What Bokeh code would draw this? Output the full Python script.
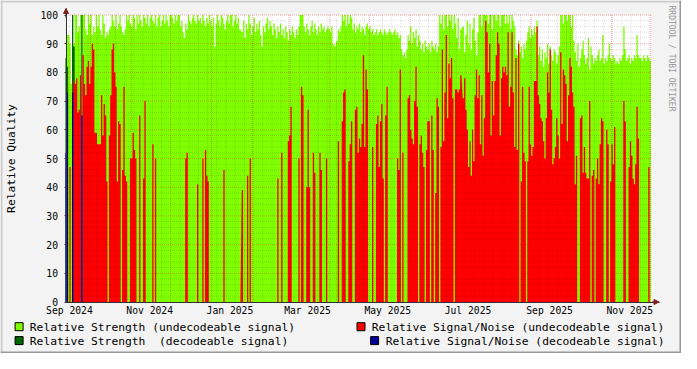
import math
from datetime import datetime, timedelta
import numpy as np
from bokeh.plotting import figure
from bokeh.models import (Range1d, FixedTicker, DatetimeTickFormatter, Arrow,
                          NormalHead, ColumnDataSource, BoxAnnotation)
from bokeh.embed import file_html
from bokeh.resources import INLINE
from bokeh.core.properties import value

NAN = float("nan")

# ---------------- data (one value per day, starting 2024-09-12) ----------------
first_day = datetime(2024, 9, 12)

# Relative Strength (undecodeable signal)
strength_undec = [
    0, 93, 93, 90, 76, 0, 90, 100, 100, 94,
    96, 100, 0, 100, 100, 95, 93, 100, 97, 100,
    93, 96, 94, 100, 96, 100, 95, 93, 100, 97,
    92, 94, 93, 95, 96, 100, 98, 96, 100, 95,
    97, 100, 96, 94, 93, 95, 100, 98, 100, 97,
    96, 100, 99, 95, 100, 97, 100, 98, 96, 100,
    99, 97, 100, 96, 99, 100, 98, 97, 100, 96,
    99, 100, 96, 98, 100, 97, 100, 98, 96, 100,
    100, 99, 97, 100, 98, 100, 100, 96, 98, 94,
    92, 97, 95, 100, 98, 97, 99, 100, 98, 97,
    100, 98, 99, 97, 100, 98, 96, 99, 97, 100,
    98, 96, 99, 89, 97, 100, 98, 96, 100, 99,
    97, 95, 98, 100, 97, 100, 100, 96, 98, 100,
    97, 99, 95, NAN, 94, 98, 92, 97, 95, 100,
    97, 93, 96, 99, 94, 97, 95, 98, 93, 89,
    96, 94, 97, 99, 95, 98, 96, 93, 97, 95,
    92, 96, 94, 97, 93, 95, 92, 96, 94, 91,
    95, 93, 96, 94, 92, 95, 93, 96, 100, 100,
    100, 96, 94, 97, 95, 93, 96, 98, 94, 97,
    95, 93, 96, 94, 97, 95, 96, 94, 95, 96,
    95, 94, 96, 90, 89, NAN, 91, 95, 94, 96,
    100, 98, 100, 96, 100, 97, 100, 99, 95, 97,
    94, 96, 95, 97, 94, 96, 95, 93, 96, 97,
    95, 96, 94, 95, 93, 94, 95, 93, 94, 95,
    94, 93, 95, 94, 93, 94, 95, 94, 93, 94,
    95, 93, 94, 92, 93, 88, 86, 87, 85, 88,
    93, 91, 96, 90, 94, 92, 95, 89, 93, 91,
    88, 90, 87, 91, 89, 88, 90, 87, 91, 89,
    88, 90, 87, 89, 100, 97, 100, 95, 100, 100,
    96, 100, 98, 100, 95, 100, 97, 92, 99, 88,
    95, NAN, 96, 87, 93, 98, 90, 97, 88, 95,
    99, 91, 86, 94, 100, 100, 96, 100, 100, 100,
    100, 97, 100, 100, 95, 100, 100, 98, 100, 100,
    96, 100, 100, 100, 97, 100, 97, 100, 95, 100,
    98, 96, 88, 86, 91, 87, 89, 85, 90, 88,
    91, 94, 96, 92, 95, 93, 96, 94, 98, 86,
    89, 84, 88, 82, 87, 85, 90, 83, 89, 86,
    84, 88, 87, 83, 86, 89, 100, 100, 97, 100,
    100, 98, 100, 100, 96, 100, 91, 87, 84, 90,
    82, 85, 88, 91, 86, 83, 85, 92, 81, 89,
    86, 83, 85, 84, 86, 88, 84, 85, 93, 83,
    85, 84, 86, 90, 85, 84, 86, 85, 83, 84,
    83, 85, 84, 86, 96, 88, 84, 85, 86, 83,
    85, 84, 86, 85, 93, 86, 85, 85, 84, 86,
    85, 84, 86, 85, 84,
]

# Relative Signal/Noise (undecodeable signal)
snr_undec = [
    0, 0, 0, 47, 0, 0, 77, 76, 78, 66,
    67, 79, 0, 86, 76, 72, 82, 84, 76, 82,
    90, 88, 59, 59, 55, 55, 55, 72, 58, 69,
    65, 42, 0, 58, 72, 88, 90, 80, 75, 42,
    63, 62, 0, 46, 75, 44, 42, 0, 0, 50,
    50, 59, 53, 50, 0, 0, 65, 0, 0, 43,
    70, 0, 0, 0, 0, 0, 55, 0, 50, 0,
    0, 0, 0, 0, 0, 0, 0, 0, 0, 0,
    0, 0, 0, 0, 0, 0, 0, 0, 0, 0,
    0, 50, 52, 0, 0, 0, 0, 0, 0, 0,
    41, 0, 0, 0, 50, 0, 53, 44, 42, 0,
    0, 0, 0, 0, 0, 0, 0, 0, 0, 0,
    46, 0, 0, 0, 0, 0, 0, 0, 0, 0,
    0, 0, 0, NAN, 39, 0, 0, 0, 44, 0,
    50, 0, 0, 0, 0, 0, 0, 0, 0, 0,
    0, 0, 0, 0, 0, 0, 0, 0, 0, 0,
    0, 43, 0, 0, 52, 0, 0, 0, 0, 56,
    58, 68, 0, 0, 0, 0, 0, 50, 0, 75,
    72, 0, 0, 40, 67, 40, 0, 0, 52, 45,
    0, 0, 0, 52, 46, 0, 0, 0, 50, 0,
    0, 0, 0, 0, 0, NAN, 0, 56, 0, 0,
    63, 73, 74, 0, 0, 49, 55, 63, 0, 0,
    67, 68, 52, 57, 54, 62, 86, 54, 81, 74,
    0, 0, 0, 54, 0, 0, 62, 65, 47, 63,
    69, 43, 0, 65, 75, 0, 0, 0, 0, 0,
    0, 0, 50, 46, 81, 0, 52, 0, 0, 0,
    71, 72, 60, 57, 55, 70, 82, 68, 0, 55,
    58, 52, 47, 0, 53, 63, 63, 0, 65, 53,
    0, 38, 71, 68, 0, 54, 88, 56, 73, 93,
    64, 83, 78, 85, 71, 0, 74, 74, 73, 74,
    79, NAN, 71, 78, 67, 60, 47, 56, 44, 60,
    49, 72, 81, 71, 79, 55, 72, 51, 64, 98,
    94, 80, 90, 58, 77, 65, 77, 86, 94, 90,
    58, 78, 82, 80, 82, 79, 94, 68, 75, 94,
    73, 54, 85, 53, 90, 0, 42, 75, 52, 49,
    0, 49, 75, 55, 51, 54, 77, 77, 96, 72,
    69, 64, 63, 56, 50, 64, 80, 73, 88, 67,
    48, 50, 54, 64, 58, 50, 87, 62, 81, 79,
    76, 56, 72, 85, 82, 73, 68, 41, 51, 0,
    0, 64, 65, 45, 54, 45, 43, 43, 70, 0,
    44, 46, 0, 43, 50, 41, 55, 64, 63, 0,
    0, 60, 55, 0, 42, 55, 48, 61, 0, 0,
    0, 0, 0, 0, 70, 63, 0, 0, 47, 56,
    51, 43, 41, 48, 68, 57, 0, 0, 0, 0,
    0, 0, 0, 47, 0,
]

# decodeable signal, only present during the first days
strength_dec = [85, 82, 0, 0, 0, 100, 89, 0, 0, 0, 0, 0, 100]
snr_dec = [52, 73, 0, 0, 0, 73, 0, 0, 0, 0, 0, 0, 65]

x_tick_labels = ["Sep 2024", "Nov 2024", "Jan 2025", "Mar 2025",
                 "May 2025", "Jul 2025", "Sep 2025", "Nov 2025"]
label_months = [(2024, 9), (2024, 11), (2025, 1), (2025, 3),
                (2025, 5), (2025, 7), (2025, 9), (2025, 11)]
y_ticks = [0, 10, 20, 30, 40, 50, 60, 70, 80, 90, 100]

legend_labels = ["Relative Strength (undecodeable signal)",
                 "Relative Signal/Noise (undecodeable signal)",
                 "Relative Strength \u00a0(decodeable signal)",
                 "Relative Signal/Noise (decodeable signal)"]

C_STR_UND = "#80ff00"
C_STR_DEC = "#006600"
C_SNR_UND = "#ff0000"
C_SNR_DEC = "#000099"
legend_colors = [C_STR_UND, C_SNR_UND, C_STR_DEC, C_SNR_DEC]

AXIS = "#303030"
ARROW = "#7f1f1f"
BACK = "#f3f3f3"
SHADE_A = "#cbcbcb"
SHADE_B = "#999999"
FONT = "DejaVu Sans Mono"

# ---------------- geometry ----------------
EPOCH = datetime(1970, 1, 1)


def ms(dt):
    return (dt - EPOCH).total_seconds() * 1000.0


DAY_MS = 86400000.0
W_PX, H_PX = 681, 353
L_PX, R_PX = 65.5, 651.5      # data area left / right (pixels)
T_PX, B_PX = 14.5, 301.5      # data area top / bottom (pixels)

x_start = ms(datetime(2024, 9, 12, 10, 5))
span_days = 445.43
x_end = x_start + span_days * DAY_MS
PXMS = span_days * DAY_MS / (R_PX - L_PX)   # ms per pixel
PYU = (B_PX - T_PX) / 100.0                   # pixels per unit


def dx(px):
    return x_start + (px - L_PX) * PXMS


def dy(py):
    return (B_PX - py) / PYU


def step_source(n_days, cols):
    # day edges (step "after"): the last day's value is repeated at its closing edge
    data = dict(xe=np.array([ms(first_day + timedelta(days=i)) for i in range(n_days + 1)]),
                xc=np.array([ms(first_day + timedelta(days=i, hours=12)) for i in range(n_days + 1)]))
    for k, vals in cols.items():
        data[k] = np.array(list(vals) + [vals[-1]], dtype=float)
    return ColumnDataSource(data)


n = len(strength_undec)
src = step_source(n, {"g": strength_undec, "r": snr_undec})
nd = len(strength_dec)
src_dec = step_source(nd, {"dg": strength_dec, "b": snr_dec})

label_ticks = [ms(datetime(y, m, 15)) for (y, m) in label_months]

month_starts = []
y_, m_ = 2024, 10
while True:
    t = ms(datetime(y_, m_, 1))
    if t > x_end:
        break
    month_starts.append(t)
    m_ += 1
    if m_ > 12:
        m_ = 1
        y_ += 1

week_lines = []
d = datetime(2024, 9, 15)
while ms(d) < x_end:
    if d.day != 1:
        week_lines.append(ms(d))
    d += timedelta(days=7)

# ---------------- figure ----------------
p = figure(width=W_PX, height=H_PX, x_axis_type="datetime",
           x_range=Range1d(dx(0), dx(W_PX)), y_range=Range1d(dy(H_PX), dy(0)),
           output_backend="svg", toolbar_location=None, min_border=0,
           background_fill_color=BACK, border_fill_color=BACK,
           outline_line_color=None)
p.grid.visible = False

p.add_layout(BoxAnnotation(left=x_start, right=x_end, bottom=0, top=100,
                           fill_color="#ffffff", fill_alpha=1.0, line_color=None,
                           level="underlay"))

HAS_STEP = hasattr(p, "varea_step")


def area(source, col, color):
    if HAS_STEP:
        p.varea_step(x="xe", y1=0, y2=col, step_mode="after", source=source,
                     fill_color=color)
    else:
        p.vbar(x="xc", top=col, width=DAY_MS * 1.5, source=source,
               fill_color=color, line_color=None)


area(src, "g", C_STR_UND)
area(src_dec, "dg", C_STR_DEC)
area(src, "r", C_SNR_UND)
area(src_dec, "b", C_SNR_DEC)

# grid (dotted, drawn over the areas like rrdtool)
y_minor = [v for v in range(2, 101, 2) if v % 10 != 0]
y_major = [v for v in range(10, 101, 10)]
GRID_MINOR = dict(line_color="#000000", line_alpha=0.12, line_dash="1 1", line_width=1)
GRID_MAJOR = dict(line_color="#e00000", line_alpha=0.32, line_dash="1 1", line_width=1)
p.segment(x0=[x_start] * len(y_minor), x1=[x_end] * len(y_minor), y0=y_minor, y1=y_minor, **GRID_MINOR)
p.segment(x0=week_lines, x1=week_lines, y0=[0] * len(week_lines), y1=[100] * len(week_lines), **GRID_MINOR)
p.segment(x0=[x_start] * len(y_major), x1=[x_end] * len(y_major), y0=y_major, y1=y_major, **GRID_MAJOR)
p.segment(x0=month_starts, x1=month_starts, y0=[0] * len(month_starts), y1=[100] * len(month_starts), **GRID_MAJOR)

# axes at fixed locations inside the canvas
x_tip = dx(658.5)
y_tip = dy(8.0)

xa = p.xaxis[0]
xa.fixed_location = 0
xa.bounds = (x_start, x_tip)
xa.ticker = FixedTicker(ticks=label_ticks)
fmt = "%b %Y"
xa.formatter = DatetimeTickFormatter(microseconds=fmt, milliseconds=fmt, seconds=fmt,
                                     minsec=fmt, minutes=fmt, hourmin=fmt, hours=fmt,
                                     days=fmt, months=fmt, years=fmt)
xa.major_label_overrides = {t: s for t, s in zip(label_ticks, x_tick_labels)}
xa.major_tick_line_color = None
xa.major_tick_out = 0
xa.major_tick_in = 0
xa.minor_tick_line_color = None
xa.axis_line_color = AXIS
xa.major_label_standoff = 3
xa.major_label_text_font = FONT
xa.major_label_text_font_size = "9.7px"
xa.major_label_text_color = "#000000"

ya = p.yaxis[0]
ya.fixed_location = x_start
ya.bounds = (0, y_tip)
ya.ticker = FixedTicker(ticks=y_ticks)
ya.major_tick_out = 2
ya.major_tick_in = 0
ya.major_tick_line_color = AXIS
ya.minor_tick_line_color = None
ya.axis_line_color = AXIS
ya.major_label_standoff = 6
ya.major_label_text_font = FONT
ya.major_label_text_font_size = "9.7px"
ya.major_label_text_color = "#000000"

p.add_layout(Arrow(end=NormalHead(size=5, fill_color=ARROW, line_color=ARROW),
                   x_start=x_start, y_start=99, x_end=x_start, y_end=y_tip,
                   line_color=AXIS, line_width=1))
p.add_layout(Arrow(end=NormalHead(size=5, fill_color=ARROW, line_color=ARROW),
                   x_start=x_end, y_start=0, x_end=x_tip, y_end=0,
                   line_color=AXIS, line_width=1))

# vertical axis title and watermark
p.text(x=[dx(10.7)], y=[50], text=["Relative Quality"], angle=math.pi / 2,
       text_align="center", text_baseline="middle", text_font=value(FONT),
       text_font_size="11.3px", text_color="#000000")
p.text(x=[dx(671.0)], y=[dy(5.0)], text=["RRDTOOL / TOBI OETIKER"], angle=-math.pi / 2,
       text_align="left", text_baseline="middle", text_font=value(FONT),
       text_font_size="8px", text_color="#959595")

# legend
sq_x = [18.6, 360.5, 18.6, 374.1]
sq_y = [326.2, 326.2, 340.1, 340.1]
tx_x = [29.3, 371.3, 29.3, 385.2]
p.rect(x=[dx(v) for v in sq_x], y=[dy(v) for v in sq_y], width=8, height=8,
       width_units="screen", height_units="screen",
       fill_color=legend_colors, line_color="#000000", line_width=1)
p.text(x=[dx(v) for v in tx_x], y=[dy(v + 0.5) for v in sq_y], text=legend_labels,
       text_font=value(FONT), text_font_size="11.3px", text_baseline="middle",
       text_align="left", text_color="#000000")

# rrdtool-style shaded image border (light top/left, dark bottom/right)
p.segment(x0=[dx(0), dx(1)], y0=[dy(1), dy(0)], x1=[dx(W_PX), dx(1)], y1=[dy(1), dy(H_PX)],
          line_color=SHADE_A, line_width=2)
p.segment(x0=[dx(0), dx(W_PX - 1)], y0=[dy(H_PX - 1), dy(0)],
          x1=[dx(W_PX), dx(W_PX - 1)], y1=[dy(H_PX - 1), dy(H_PX)],
          line_color=SHADE_B, line_width=2)

open("out.html", "w").write(file_html(p, INLINE))
